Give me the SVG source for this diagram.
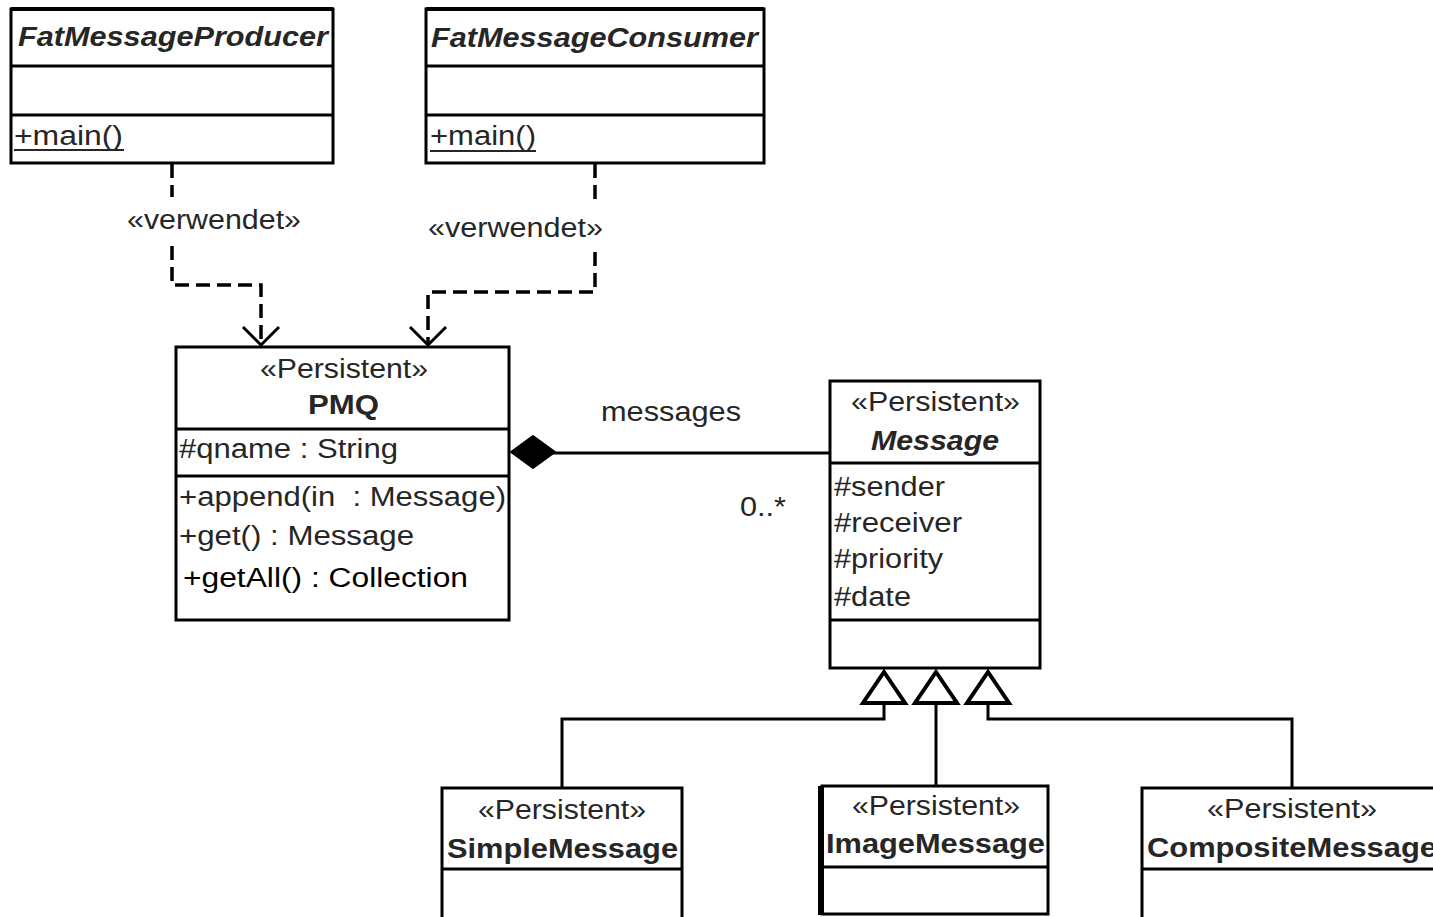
<svg xmlns="http://www.w3.org/2000/svg" width="1433" height="917" viewBox="0 0 1433 917">
<defs>
<style>
.box{fill:#fff;stroke:#000;stroke-width:3}
.sep{stroke:#000;stroke-width:3}
.t{font-family:"Liberation Sans",Arial,sans-serif;fill:#262626;font-size:27px;white-space:pre}
.b{font-weight:bold}
.i{font-style:italic}
.dash{fill:none;stroke:#000;stroke-width:3.5;stroke-dasharray:14 7}
.line{fill:none;stroke:#000;stroke-width:3}
.tri{fill:#fff;stroke:#000;stroke-width:4;stroke-linejoin:miter}
</style>
</defs>
<rect width="1433" height="917" fill="#fff"/>

<g id="connectors">
  <!-- dependency: producer -> PMQ -->
  <path class="dash" d="M172 164 V197"/>
  <path class="dash" d="M172 246 V285 H261 V344"/>
  <polyline class="line" points="243,327 261,345 279,327" stroke-width="3.5"/>
  <text class="t" x="127" y="229" font-size="25" textLength="174" lengthAdjust="spacingAndGlyphs">«verwendet»</text>
  <!-- dependency: consumer -> PMQ -->
  <path class="dash" d="M595 164 V206"/>
  <path class="dash" d="M595 252 V292 H428 V344"/>
  <polyline class="line" points="410,327 428,345 446,327" stroke-width="3.5"/>
  <text class="t" x="428" y="237" font-size="25" textLength="175" lengthAdjust="spacingAndGlyphs">«verwendet»</text>
  <!-- composition PMQ <>- Message -->
  <line class="line" x1="553" y1="453" x2="830" y2="453"/>
  <polygon points="511,452 533,436 555,452 533,468" fill="#000" stroke="#000" stroke-width="2" stroke-linejoin="round"/>
  <text class="t" x="601" y="421" textLength="140" lengthAdjust="spacingAndGlyphs">messages</text>
  <text class="t" x="740" y="516" textLength="46" lengthAdjust="spacingAndGlyphs">0..*</text>
  <!-- generalizations -->
  <path class="line" d="M884 703 V719 H562 V788"/>
  <path class="line" d="M936 703 V786"/>
  <path class="line" d="M988 703 V719 H1292 V788"/>
  <polygon class="tri" points="884,672 905,703 863,703"/>
  <polygon class="tri" points="936,672 957,703 915,703"/>
  <polygon class="tri" points="988,672 1009,703 967,703"/>
</g>

<g id="FatMessageProducer">
  <rect class="box" x="11" y="9" width="322" height="154"/>
  <line x1="11" y1="9" x2="333" y2="9" stroke="#000" stroke-width="4"/>
  <line class="sep" x1="11" y1="66" x2="333" y2="66"/>
  <line class="sep" x1="11" y1="115" x2="333" y2="115"/>
  <text class="t b i" x="18" y="46" textLength="310" lengthAdjust="spacingAndGlyphs">FatMessageProducer</text>
  <text class="t" x="14" y="145" font-size="26" textLength="109" lengthAdjust="spacingAndGlyphs">+main()</text>
  <line x1="14" y1="150" x2="124" y2="150" stroke="#262626" stroke-width="2"/>
</g>

<g id="FatMessageConsumer">
  <rect class="box" x="426" y="9" width="338" height="154"/>
  <line x1="426" y1="9" x2="764" y2="9" stroke="#000" stroke-width="4"/>
  <line class="sep" x1="426" y1="66" x2="764" y2="66"/>
  <line class="sep" x1="426" y1="115" x2="764" y2="115"/>
  <text class="t b i" x="431" y="47" textLength="327" lengthAdjust="spacingAndGlyphs">FatMessageConsumer</text>
  <text class="t" x="430" y="145" font-size="26" textLength="106" lengthAdjust="spacingAndGlyphs">+main()</text>
  <line x1="430" y1="151" x2="536" y2="151" stroke="#262626" stroke-width="2"/>
</g>

<g id="PMQ">
  <rect class="box" x="176" y="347" width="333" height="273"/>
  <line class="sep" x1="176" y1="429" x2="509" y2="429"/>
  <line class="sep" x1="176" y1="476" x2="509" y2="476"/>
  <text class="t" x="260" y="378" textLength="168" lengthAdjust="spacingAndGlyphs">«Persistent»</text>
  <text class="t b" x="308" y="414" font-size="28" textLength="71" lengthAdjust="spacingAndGlyphs">PMQ</text>
  <text class="t" x="179" y="458" textLength="219" lengthAdjust="spacingAndGlyphs">#qname : String</text>
  <text class="t" x="179" y="506" textLength="327" lengthAdjust="spacingAndGlyphs">+append(in  : Message)</text>
  <text class="t" x="179" y="545" textLength="235" lengthAdjust="spacingAndGlyphs">+get() : Message</text>
  <text class="t" x="183" y="587" font-size="30" style="fill:#000" textLength="285" lengthAdjust="spacingAndGlyphs">+getAll() : Collection</text>
</g>

<g id="Message">
  <rect class="box" x="830" y="381" width="210" height="287"/>
  <line class="sep" x1="830" y1="463" x2="1040" y2="463"/>
  <line class="sep" x1="830" y1="620" x2="1040" y2="620"/>
  <text class="t" x="851" y="411" textLength="169" lengthAdjust="spacingAndGlyphs">«Persistent»</text>
  <text class="t b i" x="871" y="450" textLength="128" lengthAdjust="spacingAndGlyphs">Message</text>
  <text class="t" x="834" y="496" textLength="111" lengthAdjust="spacingAndGlyphs">#sender</text>
  <text class="t" x="834" y="532" textLength="128" lengthAdjust="spacingAndGlyphs">#receiver</text>
  <text class="t" x="834" y="568" textLength="109" lengthAdjust="spacingAndGlyphs">#priority</text>
  <text class="t" x="834" y="606" textLength="77" lengthAdjust="spacingAndGlyphs">#date</text>
</g>

<g id="SimpleMessage">
  <rect class="box" x="442" y="788" width="240" height="140"/>
  <line class="sep" x1="442" y1="869" x2="682" y2="869"/>
  <text class="t" x="478" y="819" textLength="168" lengthAdjust="spacingAndGlyphs">«Persistent»</text>
  <text class="t b" x="447" y="858" font-size="28" textLength="231" lengthAdjust="spacingAndGlyphs">SimpleMessage</text>
</g>

<g id="ImageMessage">
  <rect class="box" x="822" y="786" width="226" height="128"/>
  <line x1="821" y1="786" x2="821" y2="915" stroke="#000" stroke-width="6"/>
  <line class="sep" x1="822" y1="867" x2="1048" y2="867"/>
  <text class="t" x="852" y="815" textLength="168" lengthAdjust="spacingAndGlyphs">«Persistent»</text>
  <text class="t b" x="826" y="853" font-size="28" textLength="219" lengthAdjust="spacingAndGlyphs">ImageMessage</text>
</g>

<g id="CompositeMessage">
  <rect class="box" x="1142" y="788" width="310" height="140"/>
  <line class="sep" x1="1142" y1="869" x2="1452" y2="869"/>
  <text class="t" x="1207" y="818" textLength="170" lengthAdjust="spacingAndGlyphs">«Persistent»</text>
  <text class="t b" x="1147" y="857" font-size="28" textLength="290" lengthAdjust="spacingAndGlyphs">CompositeMessage</text>
</g>
</svg>
